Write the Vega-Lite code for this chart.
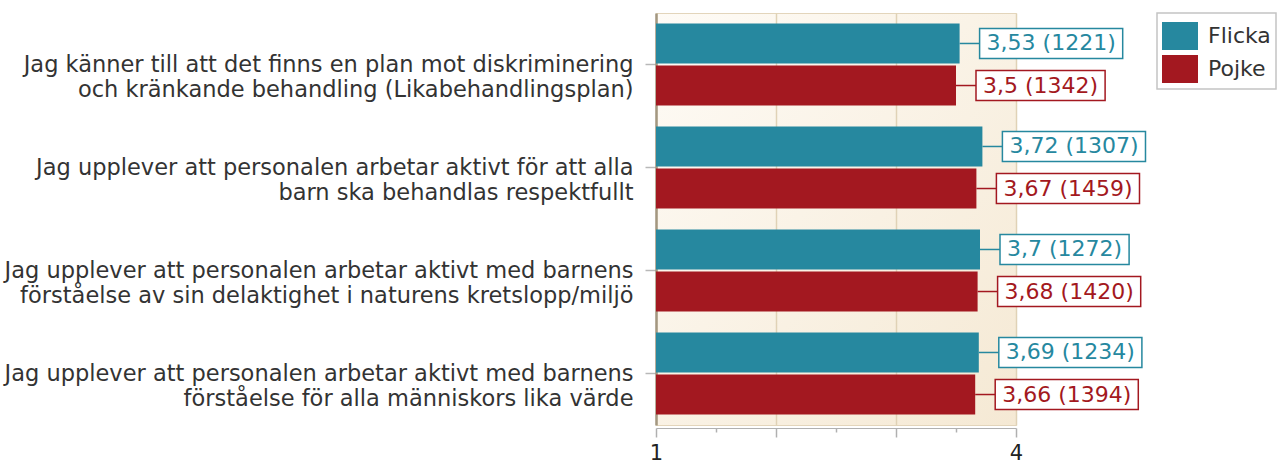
{
  "$schema": "https://vega.github.io/schema/vega-lite/v6.json",
  "autosize": "none",
  "width": 360,
  "height": 412,
  "padding": {"left": 656, "top": 13, "right": 268, "bottom": 39},
  "background": "white",
  "config": {
    "font": "DejaVu Sans",
    "view": {
      "stroke": "#e3d5bb",
      "strokeWidth": 1,
      "fill": {"gradient": "linear", "x1": 0, "y1": 0, "x2": 1, "y2": 1, "stops": [{"offset": 0, "color": "#fefbf6"}, {"offset": 1, "color": "#f5e9d4"}]}
    },
    "legend": {
      "orient": "none",
      "legendX": 501,
      "legendY": 0,
      "strokeColor": "#c4c4c4",
      "strokeWidth": 1.5,
      "fillColor": "white",
      "padding": 5,
      "symbolType": "M-1,-0.78H1V0.78H-1Z",
      "symbolSize": 1296,
      "symbolStrokeWidth": 0,
      "symbolOpacity": 1,
      "labelFontSize": 22,
      "labelFont": "DejaVu Sans",
      "labelColor": "#333333",
      "labelOffset": 10,
      "rowPadding": 0
    }
  },
  "data": {
    "values": [
      {"q": "Jag känner till att det finns en plan mot diskriminering|och kränkande behandling (Likabehandlingsplan)", "series": "Flicka", "value": 3.53, "label": "3,53 (1221)"},
      {"q": "Jag känner till att det finns en plan mot diskriminering|och kränkande behandling (Likabehandlingsplan)", "series": "Pojke", "value": 3.5, "label": "3,5 (1342)"},
      {"q": "Jag upplever att personalen arbetar aktivt för att alla|barn ska behandlas respektfullt", "series": "Flicka", "value": 3.72, "label": "3,72 (1307)"},
      {"q": "Jag upplever att personalen arbetar aktivt för att alla|barn ska behandlas respektfullt", "series": "Pojke", "value": 3.67, "label": "3,67 (1459)"},
      {"q": "Jag upplever att personalen arbetar aktivt med barnens|förståelse av sin delaktighet i naturens kretslopp/miljö", "series": "Flicka", "value": 3.7, "label": "3,7 (1272)"},
      {"q": "Jag upplever att personalen arbetar aktivt med barnens|förståelse av sin delaktighet i naturens kretslopp/miljö", "series": "Pojke", "value": 3.68, "label": "3,68 (1420)"},
      {"q": "Jag upplever att personalen arbetar aktivt med barnens|förståelse för alla människors lika värde", "series": "Flicka", "value": 3.69, "label": "3,69 (1234)"},
      {"q": "Jag upplever att personalen arbetar aktivt med barnens|förståelse för alla människors lika värde", "series": "Pojke", "value": 3.66, "label": "3,66 (1394)"}
    ]
  },
  "encoding": {
    "y": {
      "field": "q",
      "type": "nominal",
      "sort": null,
      "scale": {"paddingInner": 0, "paddingOuter": 0},
      "axis": {
        "title": null,
        "labelExpr": "split(datum.label, '|')",
        "labelFontSize": 22.5,
        "labelColor": "#333333",
        "labelLineHeight": 25,
        "labelPadding": 12,
        "labelLimit": 700,
        "tickSize": 11,
        "tickColor": "#b8b8b8",
        "tickWidth": 1.5,
        "domainColor": "#a39780",
        "domainWidth": 2.5,
        "grid": false
      }
    },
    "yOffset": {
      "field": "series",
      "type": "nominal",
      "scale": {"paddingInner": 0.05, "paddingOuter": 0.25}
    }
  },
  "layer": [
    {
      "mark": {"type": "bar", "strokeWidth": 1},
      "encoding": {
        "x": {
          "field": "value",
          "type": "quantitative",
          "scale": {"domain": [1, 4], "zero": false, "nice": false},
          "axis": {
            "title": null,
            "values": [1, 1.25, 1.5, 1.75, 2, 2.25, 2.5, 2.75, 3, 3.25, 3.5, 3.75, 4],
            "labelExpr": "datum.value == 1 || datum.value == 4 ? format(datum.value, 'd') : ''",
            "labelFontSize": 21,
            "labelColor": "#222222",
            "labelPadding": 5,
            "labelFlush": false,
            "labelOverlap": false,
            "offset": 3,
            "domainColor": "#b0b0b0",
            "tickColor": "#b0b0b0",
            "tickWidth": 1.5,
            "tickSize": {"condition": {"test": "datum.value % 1 == 0", "value": 9}, "value": 4},
            "grid": true,
            "gridColor": "#e0d2b6",
            "gridWidth": 1.5,
            "gridOpacity": {"condition": {"test": "datum.value % 1 == 0", "value": 1}, "value": 0}
          }
        },
        "x2": {"datum": 1},
        "color": {
          "field": "series",
          "type": "nominal",
          "scale": {"domain": ["Flicka", "Pojke"], "range": ["#26889f", "#a31820"]},
          "legend": {"title": null}
        }
      }
    },
    {
      "mark": {"type": "rule", "x2Offset": 20, "strokeWidth": 1.5},
      "encoding": {
        "x": {"field": "value", "type": "quantitative"},
        "x2": {"field": "value"},
        "stroke": {
          "field": "series",
          "type": "nominal",
          "scale": {"domain": ["Flicka", "Pojke"], "range": ["#26889f", "#a31820"]},
          "legend": null
        }
      }
    },
    {
      "mark": {"type": "bar", "fill": "white", "strokeWidth": 1.5, "size": 30, "xOffset": 20, "x2Offset": {"expr": "34 + 22 * ((length(datum.label) - 4) * 0.636 + 1.416)"}},
      "encoding": {
        "x": {"field": "value", "type": "quantitative"},
        "x2": {"field": "value"},
        "stroke": {
          "field": "series",
          "type": "nominal",
          "scale": {"domain": ["Flicka", "Pojke"], "range": ["#26889f", "#a31820"]},
          "legend": null
        }
      }
    },
    {
      "mark": {"type": "text", "align": "left", "baseline": "middle", "xOffset": 27, "fontSize": 22},
      "encoding": {
        "x": {"field": "value", "type": "quantitative"},
        "text": {"field": "label"},
        "fill": {
          "field": "series",
          "type": "nominal",
          "scale": {"domain": ["Flicka", "Pojke"], "range": ["#26889f", "#a31820"]},
          "legend": null
        }
      }
    }
  ]
}
